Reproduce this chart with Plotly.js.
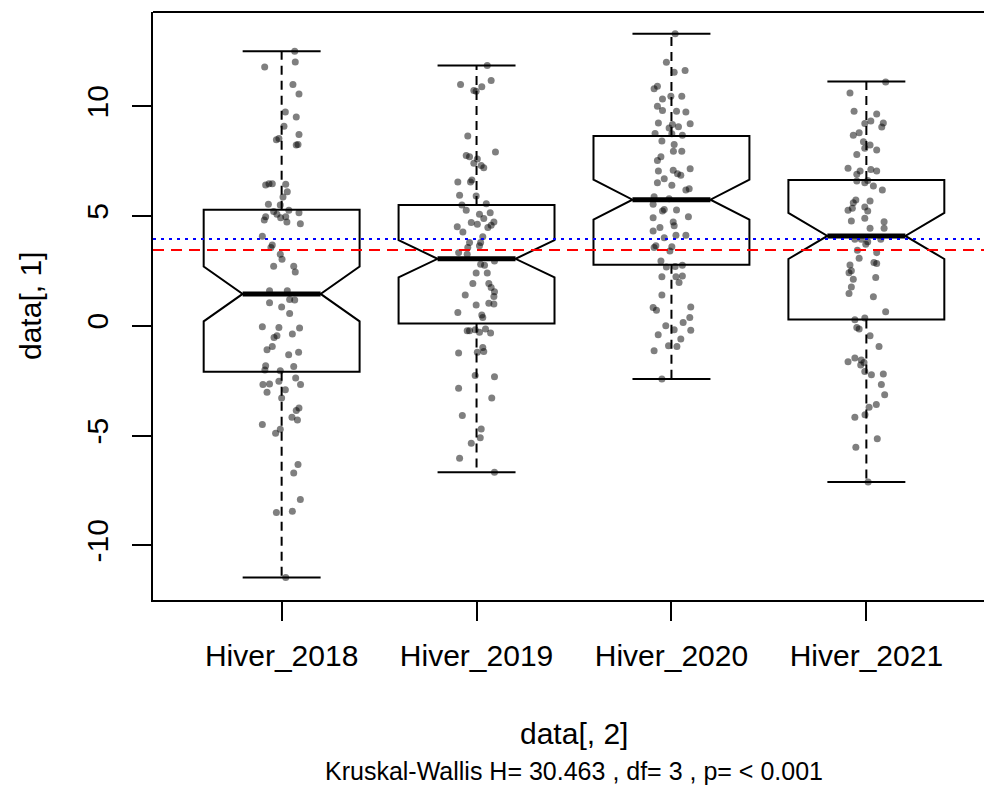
<!DOCTYPE html>
<html>
<head>
<meta charset="utf-8">
<script src="https://cdn.plot.ly/plotly-3.0.1.min.js"></script>
<style>
html,body{margin:0;padding:0;overflow:hidden;background:#fff;}
#chart{width:985px;height:785px;}
</style>
</head>
<body>
<div id="chart"></div>
<script>
// ---- Data ----
const categories = ["Hiver_2018", "Hiver_2019", "Hiver_2020", "Hiver_2021"];
const groupPos = [1, 2, 3, 4];

const q1Vals     = [-2.09, 0.10, 2.78, 0.28];
const medianVals = [1.45, 3.05, 5.74, 4.09];
const q3Vals     = [5.28, 5.50, 8.64, 6.64];
const lowerWhisk = [-11.47, -6.67, -2.42, -7.12];
const upperWhisk = [12.50, 11.85, 13.30, 11.12];
const notchSpan  = [1.25, 0.85, 0.91, 1.05];

const meanLine   = 3.95;   // blue dotted
const medianLine = 3.45;   // red dashed

const yTickVals = [-10, -5, 0, 5, 10];
const yTickText = ["-10", "-5", "0", "5", "10"];

// jittered observations: value and horizontal jitter (x units)
const vals2018 = [12.50,11.79,12.01,10.99,10.56,9.74,9.51,9.09,8.71,8.47,8.53,8.26,8.23,6.41,6.47,6.47,6.44,6.10,5.86,5.53,5.50,5.26,5.15,5.20,5.08,4.97,4.82,4.92,4.97,4.73,4.65,4.08,3.68,3.56,3.26,3.03,2.71,2.71,2.45,1.59,1.59,1.05,1.20,1.17,0.86,0.56,-0.05,-0.08,-0.10,-0.45,-0.53,-0.38,-1.09,-0.95,-1.21,-1.32,-1.82,-2.01,-2.05,-1.86,-2.68,-2.65,-2.53,-2.38,-2.68,-3.03,-2.91,-3.29,-3.74,-3.86,-4.17,-4.29,-4.50,-4.71,-4.90,-6.32,-6.71,-7.91,-8.50,-8.45,-11.47];
const jit2018  = [0.067,-0.087,0.070,0.058,0.089,0.019,0.075,0.012,0.089,-0.027,-0.014,0.084,0.075,-0.082,-0.065,-0.048,0.021,0.029,0.007,-0.068,-0.007,0.037,0.089,-0.041,-0.024,-0.082,-0.089,-0.005,0.021,0.027,0.096,-0.099,-0.048,-0.055,-0.007,0.002,-0.041,0.062,0.070,-0.062,0.029,-0.062,0.041,0.067,0.000,0.041,-0.099,-0.014,0.092,-0.024,-0.039,0.055,-0.075,-0.048,0.087,0.036,-0.082,-0.086,-0.007,0.062,-0.096,-0.062,-0.014,0.072,0.097,-0.075,0.019,0.000,0.089,0.075,0.053,0.081,-0.099,-0.007,-0.031,0.084,0.062,0.096,-0.027,0.055,0.021];

const vals2019 = [11.85,10.99,11.17,10.88,10.71,10.68,8.64,7.91,7.76,7.70,7.60,7.40,7.30,7.20,6.55,6.55,6.64,5.91,5.94,5.50,5.56,5.26,5.08,5.15,4.70,4.62,4.88,4.73,4.58,4.47,4.51,4.27,4.05,3.79,3.79,3.56,3.64,3.33,3.26,2.95,2.80,2.76,2.40,2.40,1.92,1.92,1.74,1.55,1.33,1.40,1.03,0.99,0.94,0.60,0.49,0.38,-0.23,-0.23,-0.18,-0.30,-0.15,-0.33,-1.24,-1.21,-0.99,-1.17,-2.27,-2.32,-2.85,-3.29,-4.09,-4.70,-5.10,-5.35,-6.03,-6.67];
const jit2019  = [0.055,-0.082,0.075,0.027,-0.014,-0.002,-0.045,0.097,-0.053,-0.036,0.004,-0.014,0.024,0.037,-0.096,-0.031,-0.024,-0.002,-0.087,-0.075,0.050,-0.053,0.015,0.070,-0.027,0.004,0.037,0.089,0.075,0.058,-0.099,-0.070,0.032,0.021,-0.036,-0.045,0.015,-0.092,-0.048,0.092,0.021,0.041,-0.002,0.055,-0.019,0.063,0.075,0.092,0.089,-0.058,0.063,0.089,-0.002,-0.096,0.027,0.032,-0.048,-0.036,-0.007,0.015,0.046,0.072,-0.092,0.004,0.032,0.037,-0.007,0.092,-0.092,0.078,-0.073,0.024,0.019,-0.027,-0.087,0.092];

const vals2020 = [13.30,12.00,11.55,11.62,10.79,10.91,10.33,10.45,10.45,10.00,9.80,9.77,9.73,9.24,9.17,9.01,9.06,9.20,8.76,8.74,8.68,8.41,8.26,7.95,7.95,7.70,7.53,7.05,7.08,6.92,6.85,7.15,6.70,6.51,6.40,6.18,6.24,5.88,5.79,5.53,5.30,5.23,5.27,4.97,4.92,4.73,4.55,4.32,4.47,4.12,4.12,4.01,3.64,3.56,3.60,3.41,2.95,2.68,2.70,2.76,2.23,2.23,2.27,1.97,1.40,0.83,0.71,0.86,0.38,0.15,0.00,-0.18,-0.20,-0.41,-0.60,-0.91,-0.94,-1.14,-2.42];
const jit2020  = [0.019,-0.026,0.014,0.070,-0.089,-0.072,-0.046,-0.003,0.053,-0.072,-0.046,0.026,0.074,-0.067,0.005,-0.012,0.036,0.096,-0.084,0.002,0.056,-0.049,0.014,0.010,0.053,-0.054,-0.072,-0.067,0.009,0.031,0.048,0.096,-0.037,-0.072,0.002,0.074,0.091,-0.089,-0.012,-0.094,-0.037,-0.046,0.026,0.087,-0.094,0.009,0.014,-0.094,-0.059,0.023,0.074,-0.037,-0.080,-0.089,0.002,-0.008,-0.054,-0.026,0.019,0.056,-0.049,0.023,0.056,0.039,-0.049,-0.094,-0.077,0.099,0.094,0.060,-0.029,0.014,0.099,-0.068,0.048,-0.015,0.028,-0.089,-0.049];

const vals2021 = [11.10,10.60,9.77,9.65,9.24,9.05,9.32,9.21,8.79,8.68,8.38,8.23,8.08,8.00,7.80,7.17,6.90,7.05,7.12,7.05,6.59,6.51,6.62,6.36,6.18,5.73,5.60,5.68,5.26,5.35,5.41,5.23,4.77,4.90,4.74,4.44,4.44,3.94,3.94,3.94,3.83,3.71,3.44,3.33,3.08,2.77,2.88,2.83,2.50,2.42,2.20,2.12,1.77,1.47,1.32,0.64,0.27,0.35,-0.08,-0.15,-0.45,-0.95,-1.64,-1.47,-1.56,-1.79,-1.67,-2.08,-2.23,-2.20,-2.68,-3.14,-3.59,-3.71,-4.05,-4.17,-5.15,-5.53,-7.12];
const jit2021  = [0.099,-0.084,-0.063,0.053,0.087,0.079,0.023,-0.008,-0.037,-0.067,-0.015,0.019,-0.008,0.053,-0.049,-0.094,-0.049,-0.032,0.023,0.053,-0.049,-0.008,0.007,0.036,0.082,-0.054,-0.067,0.019,-0.094,-0.072,-0.008,0.007,-0.077,-0.008,0.091,0.091,0.019,-0.059,-0.026,0.074,0.007,-0.003,-0.046,0.053,-0.037,-0.084,0.039,0.053,-0.077,-0.089,0.048,-0.067,-0.077,-0.089,0.036,0.099,-0.059,-0.008,-0.049,-0.037,0.019,0.065,-0.094,-0.059,-0.026,-0.029,-0.012,-0.008,0.026,0.087,0.077,0.094,0.051,0.014,-0.007,-0.059,0.056,-0.054,0.009];

const groupVals = [vals2018, vals2019, vals2020, vals2021];
const groupJit  = [jit2018, jit2019, jit2020, jit2021];

const subtitleText = "Kruskal-Wallis H= 30.463 , df= 3 , p= < 0.001";
const xTitleText = "data[, 2]";
const yTitleText = "data[, 1]";

// ---- Build traces ----
const FONT = "Liberation Sans, Arial, Helvetica, sans-serif";
const BOXW = 0.8;
const traces = [];

traces.push({
  type: 'box',
  x: groupPos,
  q1: q1Vals, median: medianVals, q3: q3Vals,
  lowerfence: q1Vals, upperfence: q3Vals,
  notchspan: notchSpan, notched: true, notchwidth: 0.25,
  width: BOXW, whiskerwidth: 0,
  line: {color: 'black', width: 2},
  fillcolor: 'rgba(255,255,255,0)',
  boxpoints: false, hoverinfo: 'skip', showlegend: false
});

// dashed whiskers
const wx = [], wy = [];
groupPos.forEach((p, i) => {
  wx.push(p, p, null, p, p, null);
  wy.push(q3Vals[i], upperWhisk[i], null, q1Vals[i], lowerWhisk[i], null);
});
traces.push({type:'scatter', mode:'lines', x: wx, y: wy,
  line:{color:'black', width:2, dash:'9px,6px'}, hoverinfo:'skip', showlegend:false});

// solid caps
const cx = [], cy = [];
groupPos.forEach((p, i) => {
  cx.push(p - BOXW/4, p + BOXW/4, null, p - BOXW/4, p + BOXW/4, null);
  cy.push(upperWhisk[i], upperWhisk[i], null, lowerWhisk[i], lowerWhisk[i], null);
});
traces.push({type:'scatter', mode:'lines', x: cx, y: cy,
  line:{color:'black', width:2}, hoverinfo:'skip', showlegend:false});

// jittered points
groupPos.forEach((p, i) => {
  traces.push({type:'scatter', mode:'markers',
    x: groupJit[i].map(j => p + j), y: groupVals[i],
    marker:{color:'rgba(0,0,0,0.5)', size:7, line:{width:0}},
    hoverinfo:'y', showlegend:false});
});

// thick median bars
const mx = [], my = [];
groupPos.forEach((p, i) => {
  mx.push(p - BOXW/4, p + BOXW/4, null);
  my.push(medianVals[i], medianVals[i], null);
});
traces.push({type:'scatter', mode:'lines', x: mx, y: my,
  line:{color:'black', width:5}, hoverinfo:'skip', showlegend:false});

// x range: R's xlim [0.34, 4.66]; the right part of the plot region lies past the image edge
const X_MIN = 0.34, PX_PER_UNIT = 842 / 4.32;
const plotWidthPx = 985 - 153 - 1;
const xRange = [X_MIN, X_MIN + plotWidthPx / PX_PER_UNIT];
const xCenterFull = 2.5; // centre of the full R plot region

const layout = {
  width: 985, height: 785,
  margin: {l:153, r:1, t:12, b:185},
  paper_bgcolor: 'white', plot_bgcolor: 'white',
  font: {family: FONT, color: 'black', size: 30},
  showlegend: false,
  xaxis: {
    range: xRange, tickvals: groupPos, ticktext: categories,
    ticks: 'outside', ticklen: 19, tickwidth: 2, tickcolor: 'black',
    showline: true, linecolor: 'black', linewidth: 2, mirror: false,
    showgrid: false, zeroline: false,
    tickfont: {family: FONT, size: 30, color: 'black'},
    ticklabelstandoff: 9
  },
  yaxis: {
    range: [-12.49, 14.29], tickvals: yTickVals, ticktext: yTickText,
    ticks: 'outside', ticklen: 19, tickwidth: 2, tickcolor: 'black',
    showline: true, linecolor: 'black', linewidth: 2, mirror: false,
    showgrid: false, zeroline: false, tickangle: -90,
    tickfont: {family: FONT, size: 30, color: 'black'},
    ticklabelstandoff: 12
  },
  shapes: [
    {type:'line', xref:'paper', yref:'paper', x0:0, x1:1, y0:1, y1:1,
     line:{color:'black', width:2}, layer:'above'},
    {type:'line', xref:'paper', yref:'y', x0:0, x1:1, y0:meanLine, y1:meanLine,
     line:{color:'#0000FF', width:2, dash:'3px,5px'}, layer:'above'},
    {type:'line', xref:'paper', yref:'y', x0:0, x1:1, y0:medianLine, y1:medianLine,
     line:{color:'#FF0000', width:2, dash:'11px,7px'}, layer:'above'}
  ],
  annotations: [
    {text: xTitleText, xref:'x', yref:'paper', x:xCenterFull, y:0, xanchor:'center', yanchor:'middle',
     yshift:-133, showarrow:false, font:{family:FONT, size:30, color:'black'}},
    {text: subtitleText, xref:'x', yref:'paper', x:xCenterFull, y:0, xanchor:'center', yanchor:'middle',
     yshift:-171, showarrow:false, font:{family:FONT, size:25, color:'black'}},
    {text: yTitleText, xref:'paper', yref:'paper', x:0, y:0.5, xanchor:'center', yanchor:'middle',
     xshift:-123, textangle:-90, showarrow:false, font:{family:FONT, size:30, color:'black'}}
  ]
};

Plotly.newPlot('chart', traces, layout, {staticPlot: true, displayModeBar: false});
</script>
</body>
</html>
